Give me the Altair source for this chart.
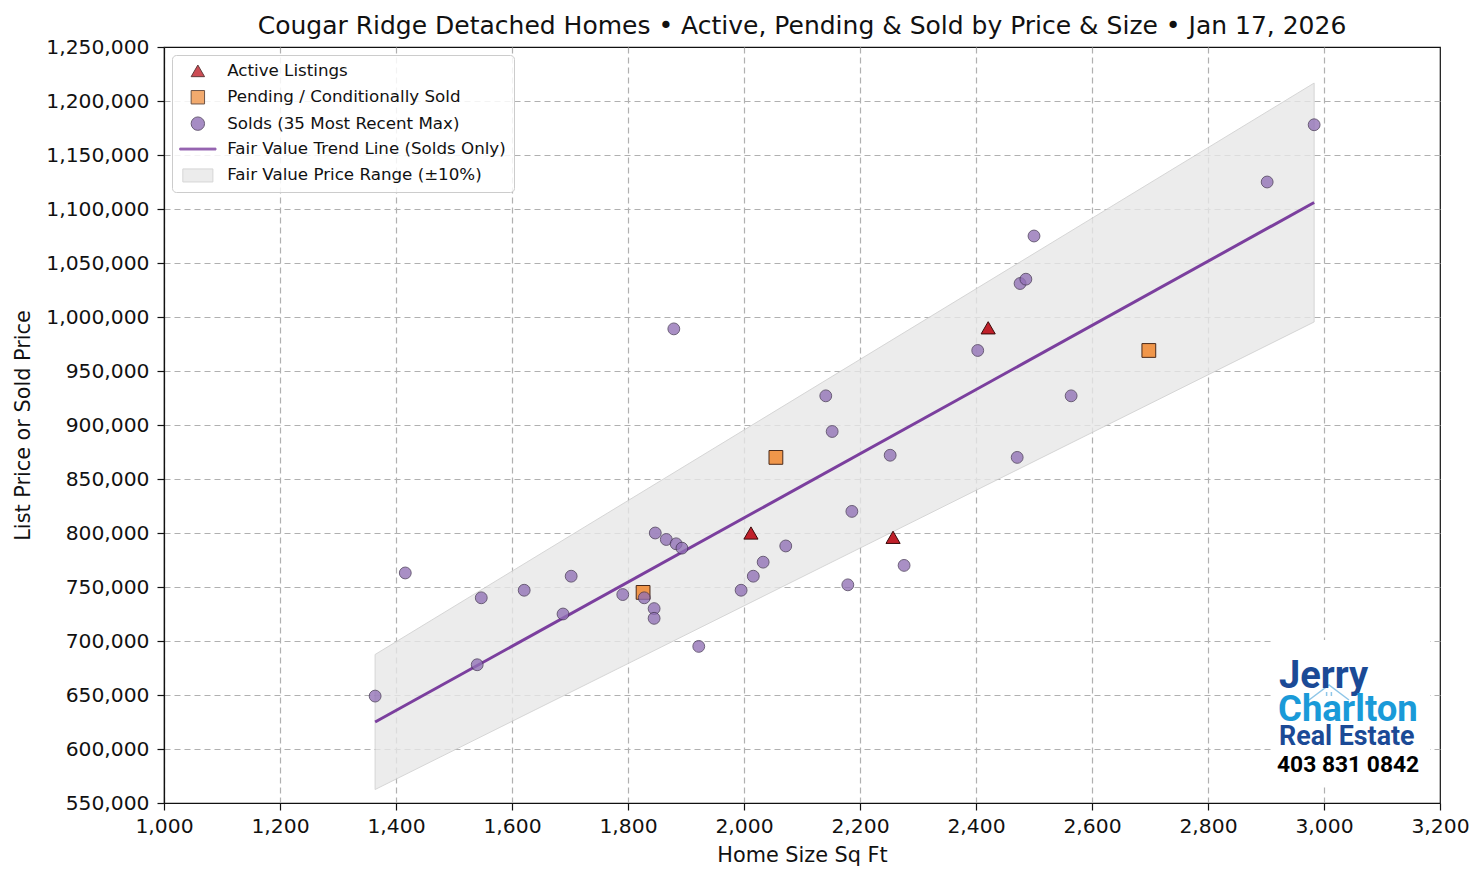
import altair as alt
import pandas as pd

# ---- data ----
sold_sqft = [1364, 1416, 1540, 1547, 1621, 1688, 1702, 1791, 1828, 1845, 1845, 1847,
             1866, 1883, 1893, 1879, 1922, 1995, 2016, 2033, 2072, 2141, 2152, 2186,
             2179, 2252, 2276, 2403, 2471, 2476, 2486, 2500, 2564, 2902, 2983]
sold_price = [649000, 763000, 678000, 740000, 747000, 725000, 760000, 743000, 740000,
              730000, 721000, 800000, 794000, 790000, 786000, 989000, 695000, 747000,
              760000, 773000, 788000, 927000, 894000, 820000, 752000, 872000, 770000,
              969000, 870000, 1031000, 1035000, 1075000, 927000, 1125000, 1178000]

active_sqft = [2012, 2257, 2421]
active_price = [800000, 796000, 990000]

pending_sqft = [1826, 2055, 2698]
pending_price = [745000, 870000, 969000]

trend_sqft = [1364, 2983]
trend_price = [625000, 1106000]

x_ticks = list(range(1000, 3201, 200))
y_ticks = list(range(550000, 1250001, 50000))

series_names = ["Active Listings", "Pending / Conditionally Sold",
                "Solds (35 Most Recent Max)", "Fair Value Trend Line (Solds Only)",
                "Fair Value Price Range (\u00b110%)"]

logo_lines = ["Jerry", "Charlton", "Real Estate", "403 831 0842"]

title_text = ("Cougar Ridge Detached Homes \u2022 Active, Pending & Sold by Price & Size "
              "\u2022 Jan 17, 2026")

# ---- tables ----
sold_df = pd.DataFrame({"sqft": sold_sqft, "price": sold_price, "series": series_names[2]})
active_df = pd.DataFrame({"sqft": active_sqft, "price": active_price, "series": series_names[0]})
pending_df = pd.DataFrame({"sqft": pending_sqft, "price": pending_price, "series": series_names[1]})
trend_df = pd.DataFrame({"sqft": trend_sqft, "price": trend_price})
trend_line_df = trend_df.assign(series=series_names[3])
band_df = trend_df.assign(series=series_names[4])

W, H = 1276, 756
FONT = "DejaVu Sans"

legend = alt.Legend(
    title=None, orient="none", legendX=8, legendY=8,
    labelFont=FONT, labelFontSize=16.7, labelColor="#111111", labelLimit=500,
    symbolSize=180, symbolOffset=10, labelOffset=21, rowPadding=7.4,
    padding=7.5, strokeColor="#cccccc", fillColor="rgba(255,255,255,0.85)",
    cornerRadius=4, symbolStrokeWidth=1,
)

fill_scale = alt.Scale(domain=series_names,
                       range=["#c0202a", "#f0964a", "#9170b6", "#7b3f9e", "#e8e8e8"])
stroke_scale = alt.Scale(domain=series_names,
                         range=["#3a0a0a", "#4a2a1a", "#463656", "#7b3f9e", "#cccccc"])
shape_scale = alt.Scale(domain=series_names,
                        range=["triangle-up", "square", "circle",
                               "M-2.7,-0.14L2.7,-0.14L2.7,0.14L-2.7,0.14Z",
                               "M-2.24,-0.97L2.24,-0.97L2.24,0.97L-2.24,0.97Z"])

YDOM = alt.Scale(domain=[y_ticks[0], y_ticks[-1]], nice=False, zero=False)
x_enc = alt.X("sqft:Q", title="Home Size Sq Ft",
              scale=alt.Scale(domain=[x_ticks[0], x_ticks[-1]], nice=False),
              axis=alt.Axis(values=x_ticks, format=",d", labelFlush=False,
                            gridOpacity={"condition": {"test": f"datum.value >= {x_ticks[-1]}",
                                                       "value": 0}, "value": 1}))
y_enc = alt.Y("price:Q", title="List Price or Sold Price", scale=YDOM,
              axis=alt.Axis(values=y_ticks, format=",d", labelFlush=False,
                            gridOpacity={"condition": {"test": f"datum.value >= {y_ticks[-1]}",
                                                       "value": 0}, "value": 1}))

def enc_common():
    return dict(
        fill=alt.Fill("series:N", scale=fill_scale, legend=legend),
        stroke=alt.Stroke("series:N", scale=stroke_scale, legend=legend),
        shape=alt.Shape("series:N", scale=shape_scale, legend=legend),
    )

band = alt.Chart(band_df).transform_calculate(
    lo="datum.price * 0.9", hi="datum.price * 1.1"
).mark_area(opacity=0.8, strokeWidth=1).encode(
    x=x_enc,
    y=alt.Y("lo:Q", scale=YDOM),
    y2="hi:Q",
    fill=alt.Fill("series:N", scale=fill_scale, legend=legend),
    stroke=alt.Stroke("series:N", scale=stroke_scale, legend=legend),
)

trend = alt.Chart(trend_line_df).mark_line(strokeWidth=3).encode(
    x="sqft:Q", y="price:Q",
    stroke=alt.Stroke("series:N", scale=stroke_scale, legend=legend),
)

pending = alt.Chart(pending_df).mark_point(filled=True, size=190, opacity=1,
                                           strokeWidth=1).encode(
    x="sqft:Q", y="price:Q", **enc_common())
active = alt.Chart(active_df).mark_point(filled=True, size=200, opacity=1,
                                         strokeWidth=1).encode(
    x="sqft:Q", y="price:Q", **enc_common())
sold = alt.Chart(sold_df).mark_point(filled=True, size=140, opacity=0.78,
                                     strokeWidth=1).encode(
    x="sqft:Q", y="price:Q", **enc_common())

base = alt.Chart(sold_df).mark_point(opacity=0).encode(x=x_enc, y=y_enc)

# ---- logo annotation ----
logo_df = pd.DataFrame({"k": [0]})
logo_bg = alt.Chart(logo_df).mark_rect(fill="white").encode(
    x=alt.value(1272 - 164), x2=alt.value(1430 - 164),
    y=alt.value(640 - 47), y2=alt.value(785 - 47))
roof = alt.Chart(logo_df).mark_point(
    shape="M-1,0.3L0,-0.45L1,0.3M-0.12,-0.1L-0.12,0.1M0.12,-0.1L0.12,0.1",
    size=1600, stroke="#8fc6e8", strokeWidth=1.5, filled=False, opacity=1
).encode(x=alt.value(1329 - 164), y=alt.value(694 - 47))

def logo_text(txt, size, color, x, y):
    return alt.Chart(logo_df).mark_text(
        text=txt, font="Roboto", fontWeight="bold", fontSize=size, color=color,
        align="left", baseline="alphabetic"
    ).encode(x=alt.value(x - 164), y=alt.value(y - 47))

t1 = logo_text(logo_lines[0], 38, "#1b4a96", 1279, 688)
t2 = logo_text(logo_lines[1], 36.5, "#1a9ad8", 1278, 721)
t3 = logo_text(logo_lines[2], 26.8, "#1b4a96", 1279, 745)
t4 = logo_text(logo_lines[3], 22.8, "#000000", 1277, 772)

chart = alt.layer(
    base, band, trend, pending, active, sold, logo_bg, roof, t1, t2, t3, t4
).resolve_scale(
    fill="shared", stroke="shared", shape="shared"
).properties(
    width=W, height=H,
    padding={"left": 156, "top": 39, "right": 34, "bottom": 66},
    autosize=alt.AutoSizeParams(type="none"),
    title=alt.Title(title_text, font=FONT, fontSize=25, fontWeight="normal",
                    color="#111111", anchor="middle", offset=-2),
).configure_view(
    stroke="#111111", strokeWidth=1.2
).configure_axis(
    labelFont=FONT, labelFontSize=20.3, labelColor="#111111",
    titleFont=FONT, titleFontSize=20.8, titleFontWeight="normal", titleColor="#111111",
    domainColor="#111111", domainWidth=1.2, tickColor="#111111", tickWidth=1.2,
    tickSize=7, labelPadding=8,
    grid=True, gridColor="#b0b0b0", gridDash=[6, 4], gridWidth=1.2,
).configure_axisY(titlePadding=12).configure_axisX(titlePadding=9, labelPadding=6)

chart.save("out.html", embed_options={"renderer": "svg", "actions": False})
